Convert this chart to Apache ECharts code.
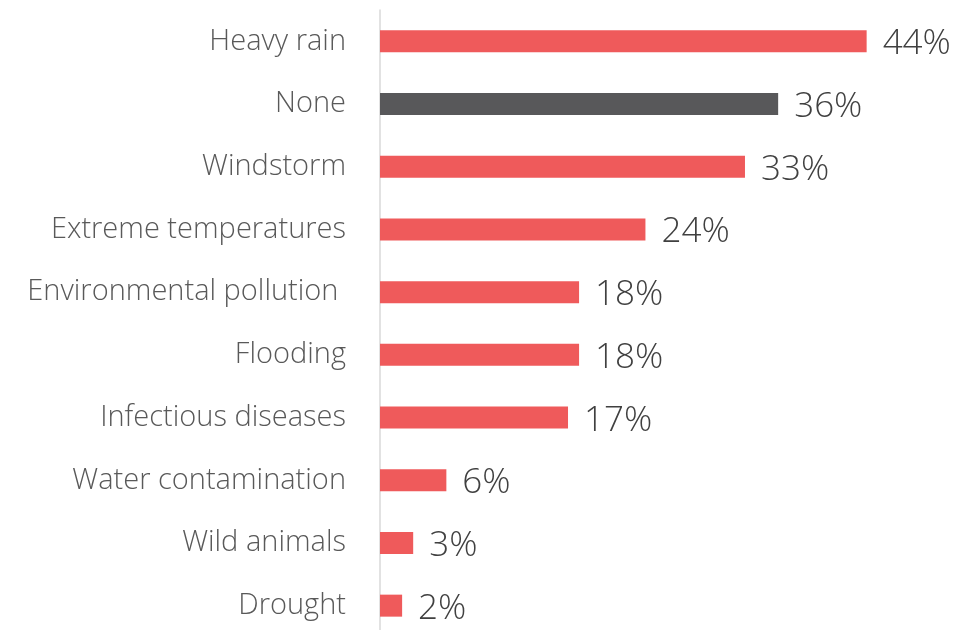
<!DOCTYPE html>
<html>
<head>
<meta charset="utf-8">
<style>
  html, body { margin: 0; padding: 0; background: #ffffff; }
  #chart { width: 974px; height: 630px; }
</style>
<script src="https://cdn.jsdelivr.net/npm/echarts@6/dist/echarts.min.js"></script>
</head>
<body>
<div id="chart"></div>
<script>
// Reported hazards, share of respondents (%)
const categories = [
  'Heavy rain', 'None', 'Windstorm', 'Extreme temperatures',
  'Environmental pollution ', 'Flooding', 'Infectious diseases',
  'Water contamination', 'Wild animals', 'Drought'
];
const values = [44, 36, 33, 24, 18, 18, 17, 6, 3, 2];
const highlighted = ['None'];

const RED = '#ef5a5b';
const GREY = '#58585a';
const FONT = '"Open Sans", Lato, "Noto Sans", sans-serif';

const chart = echarts.init(document.getElementById('chart'));
chart.setOption({
  animation: false,
  grid: { left: 380, top: 10, width: 553, height: 627, outerBoundsMode: 'none' },
  xAxis: {
    type: 'value', min: 0, max: 50,
    show: false
  },
  yAxis: {
    type: 'category',
    data: categories,
    inverse: true,
    axisLine: { show: true, lineStyle: { color: '#d9d9d9', width: 1.5 } },
    axisTick: { show: false },
    axisLabel: {
      margin: 34,
      fontFamily: FONT,
      fontWeight: 300,
      fontSize: 29,
      color: '#595959'
    }
  },
  series: [{
    type: 'bar',
    barWidth: 22,
    data: values.map((v, i) => ({
      value: v,
      itemStyle: { color: highlighted.includes(categories[i]) ? GREY : RED }
    })),
    label: {
      show: true,
      position: 'right',
      distance: 16,
      offset: [0, 3],
      formatter: p => p.value + '%',
      fontFamily: FONT,
      fontWeight: 300,
      fontSize: 35,
      color: '#404040'
    }
  }]
});
</script>
</body>
</html>
